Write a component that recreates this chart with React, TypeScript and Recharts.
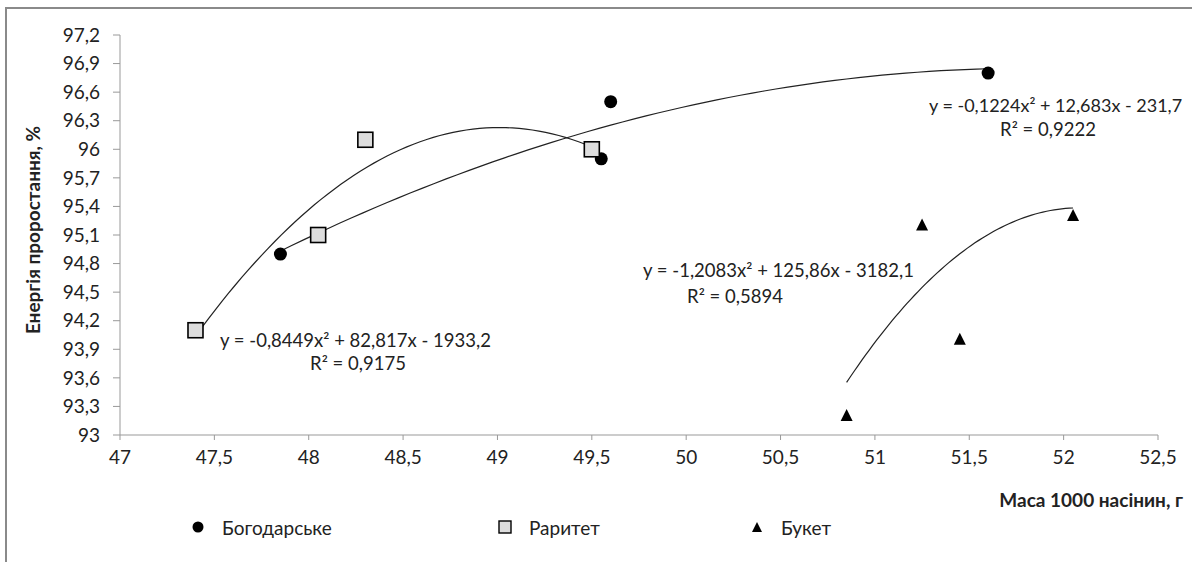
import React from 'react';
import { ScatterChart, Scatter, XAxis, YAxis, Legend } from 'recharts';

// Маса 1000 насінин (x) / енергія проростання (y)
const bogodarskeX = [47.85, 49.55, 49.6, 51.6];
const bogodarskeY = [94.9, 95.9, 96.5, 96.8];
const rarytetX = [47.4, 48.05, 48.3, 49.5];
const rarytetY = [94.1, 95.1, 96.1, 96.0];
const buketX = [50.85, 51.25, 51.45, 52.05];
const buketY = [93.2, 95.2, 94.0, 95.3];

// polynomial trend lines as printed on the chart: [a, b, c] for ax² + bx + c
const bogodarskeCoef = [-0.1224, 12.683, -231.7];
const rarytetCoef = [-0.8449, 82.817, -1933.2];
const buketCoef = [-1.2083, 125.86, -3182.1];

const xTicks = [47, 47.5, 48, 48.5, 49, 49.5, 50, 50.5, 51, 51.5, 52, 52.5];
const yTicks = [93, 93.3, 93.6, 93.9, 94.2, 94.5, 94.8, 95.1, 95.4, 95.7, 96, 96.3, 96.6, 96.9, 97.2];

const seriesNames = ['Богодарське', 'Раритет', 'Букет'];
const equations = [
  'y = -0,1224x² + 12,683x - 231,7',
  'y = -0,8449x² + 82,817x - 1933,2',
  'y = -1,2083x² + 125,86x - 3182,1',
];
const rSquared = ['R² = 0,9222', 'R² = 0,9175', 'R² = 0,5894'];

const FONT = "Lato, 'Open Sans', sans-serif";

const toPoints = (xs: number[], ys: number[]) => xs.map((x, i) => ({ x, y: ys[i] }));

// trend curve drawn from the printed equation over the series' x range
const trend = (coef: number[], xs: number[]) => {
  const from = Math.min(...xs);
  const to = Math.max(...xs);
  const pts = [];
  const n = 60;
  for (let i = 0; i <= n; i++) {
    const x = from + ((to - from) * i) / n;
    pts.push({ x, y: coef[0] * x * x + coef[1] * x + coef[2] });
  }
  return pts;
};

const fmt = (v: number) => String(v).replace('.', ',');

const Dot = (p: any) => <circle cx={p.cx} cy={p.cy} r={6.5} fill="#000" />;
const Box = (p: any) => (
  <rect x={p.cx - 7.5} y={p.cy - 7.5} width={15} height={15} fill="#ddd" stroke="#000" strokeWidth={1.6} />
);
const Tri = (p: any) => (
  <polygon points={`${p.cx},${p.cy - 7} ${p.cx - 6},${p.cy + 5} ${p.cx + 6},${p.cy + 5}`} fill="#000" />
);
const NoShape = () => <g />;

const LegendBox = () => {
  const items = [
    { left: 190, icon: <circle cx={8} cy={8} r={5.5} fill="#000" /> },
    { left: 497, icon: <rect x={2} y={2} width={12} height={12} fill="#ddd" stroke="#000" strokeWidth={1.4} /> },
    { left: 749, icon: <polygon points="8,3 3,13 13,13" fill="#000" /> },
  ];
  return (
    <div style={{ position: 'relative', height: 24, fontFamily: FONT, fontSize: 19, color: '#222' }}>
      {items.map((it, i) => (
        <div key={i} style={{ position: 'absolute', left: it.left, top: 0, height: 24, display: 'flex', alignItems: 'center' }}>
          <svg width={16} height={16}>{it.icon}</svg>
          <span style={{ marginLeft: 16, lineHeight: 1 }}>{seriesNames[i]}</span>
        </div>
      ))}
    </div>
  );
};

const text: React.CSSProperties = {
  position: 'absolute',
  fontFamily: FONT,
  fontSize: 18.5,
  lineHeight: 1,
  color: '#222',
  whiteSpace: 'nowrap',
};

const App: React.FC = () => {
  return (
    <div style={{ position: 'absolute', left: 0, top: 0, width: 1192, height: 562, background: '#fff', overflow: 'hidden' }}>
      <div style={{ position: 'absolute', left: 5, top: 7, width: 1200, height: 600, borderTop: '2px solid #8a8a8a', borderLeft: '2px solid #8a8a8a' }} />
      <ScatterChart width={1192} height={562} margin={{ top: 35, right: 34, bottom: 97, left: 0 }}>
        <XAxis
          type="number"
          dataKey="x"
          domain={[47, 52.5]}
          ticks={xTicks}
          tickFormatter={fmt}
          height={30}
          stroke="#999"
          tickSize={5}
          tickMargin={11}
          tick={{ fill: '#222', fontSize: 19, fontFamily: FONT }}
        />
        <YAxis
          type="number"
          dataKey="y"
          domain={[93, 97.2]}
          ticks={yTicks}
          tickFormatter={fmt}
          width={120}
          stroke="#999"
          tickSize={7}
          tickMargin={13}
          tick={{ fill: '#222', fontSize: 19, fontFamily: FONT }}
        />
        <Legend
          layout="horizontal"
          verticalAlign="middle"
          align="center"
          wrapperStyle={{ top: 515, left: 0, width: 1192 }}
          content={() => <LegendBox />}
        />
        <Scatter data={trend(rarytetCoef, rarytetX)} line={{ stroke: '#222', strokeWidth: 1.2 }} shape={NoShape} legendType="none" isAnimationActive={false} />
        <Scatter data={trend(bogodarskeCoef, bogodarskeX)} line={{ stroke: '#222', strokeWidth: 1.2 }} shape={NoShape} legendType="none" isAnimationActive={false} />
        <Scatter data={trend(buketCoef, buketX)} line={{ stroke: '#222', strokeWidth: 1.2 }} shape={NoShape} legendType="none" isAnimationActive={false} />
        <Scatter name={seriesNames[0]} data={toPoints(bogodarskeX, bogodarskeY)} shape={Dot} isAnimationActive={false} />
        <Scatter name={seriesNames[1]} data={toPoints(rarytetX, rarytetY)} shape={Box} isAnimationActive={false} />
        <Scatter name={seriesNames[2]} data={toPoints(buketX, buketY)} shape={Tri} isAnimationActive={false} />
      </ScatterChart>

      <div style={{ ...text, left: 32, top: 230, fontSize: 19, fontWeight: 700, transform: 'translate(-50%, -50%) rotate(-90deg)' }}>
        Енергія проростання, %
      </div>
      <div style={{ ...text, right: 9, top: 499, fontWeight: 700, fontSize: 19, transform: 'translateY(-50%)' }}>Маса 1000 насінин, г</div>

      <div style={{ ...text, left: 929, top: 105, fontSize: 18, transform: 'translateY(-50%)' }}>{equations[0]}</div>
      <div style={{ ...text, left: 1048, top: 129, transform: 'translate(-50%, -50%)' }}>{rSquared[0]}</div>

      <div style={{ ...text, left: 220, top: 340, transform: 'translateY(-50%)' }}>{equations[1]}</div>
      <div style={{ ...text, left: 358, top: 363, transform: 'translate(-50%, -50%)' }}>{rSquared[1]}</div>

      <div style={{ ...text, left: 643, top: 270, transform: 'translateY(-50%)' }}>{equations[2]}</div>
      <div style={{ ...text, left: 735, top: 296, transform: 'translate(-50%, -50%)' }}>{rSquared[2]}</div>
    </div>
  );
};

export default App;
